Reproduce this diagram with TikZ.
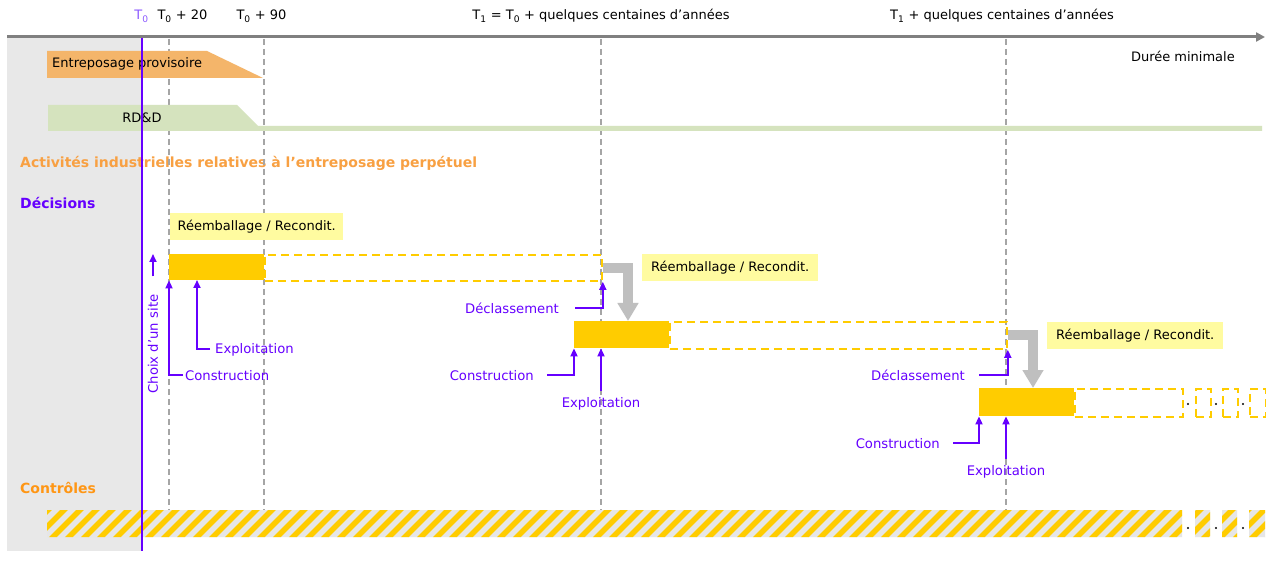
\documentclass[tikz,border=0pt]{standalone}
\usepackage{fontspec}
\setmainfont{DejaVu Sans}
\usetikzlibrary{arrows.meta}

\definecolor{panelgray}{RGB}{232,232,232}
\definecolor{axisgray}{RGB}{128,128,128}
\definecolor{guidegray}{RGB}{165,165,165}
\definecolor{storeorange}{RGB}{244,181,106}
\definecolor{rdgreen}{RGB}{213,227,190}
\definecolor{headorange}{RGB}{248,160,66}
\definecolor{ctrlorange}{RGB}{255,150,20}
\definecolor{decpurple}{RGB}{102,0,255}
\definecolor{tpurple}{RGB}{140,90,255}
\definecolor{baryellow}{RGB}{255,204,0}
\definecolor{notepale}{RGB}{255,251,160}
\definecolor{hatchgray}{RGB}{230,230,230}
\definecolor{pushgray}{RGB}{191,191,191}

\begin{document}
\begin{tikzpicture}[x=1pt,y=-1pt,
  lbl/.style={font=\fontsize{13}{15}\selectfont, inner sep=0pt},
  plbl/.style={font=\fontsize{13.2}{15}\selectfont, text=decpurple, inner sep=0pt},
  head/.style={font=\fontsize{14}{16}\selectfont\bfseries, inner sep=0pt, anchor=base west},
  guide/.style={guidegray, line width=1.2pt, dash pattern=on 6pt off 4pt},
  solidbar/.style={fill=baryellow, inner sep=0pt, anchor=north west},
  futurebar/.style={draw=baryellow, line width=1.8pt, dash pattern=on 8pt off 5pt,
                    inner sep=0pt, anchor=north west},
  note/.style={lbl, fill=notepale, minimum height=27pt, anchor=north west,
               text height=9.5pt, text depth=2.5pt},
  ptr/.style={decpurple, line width=1.8pt, -{Triangle[length=8pt,width=7pt]}},
  push/.style={pushgray, line width=10pt, line join=miter,
               -{Triangle[length=18pt,width=20pt]}},
]
\useasboundingbox (0,0) rectangle (1266,561);
\fill[white] (0,0) rectangle (1266,561);

% left-hand panel
\fill[panelgray] (7,37) rectangle (142,551);

% time axis and its marks
\draw[axisgray, line width=3pt, -{Triangle[length=9pt,width=9pt]}] (7,37) -- (1265,37);
\node[lbl, anchor=base, text=tpurple] (t0) at (141.5,20) {T\textsubscript{0}};
\node[lbl, anchor=base] (t20) at (182.5,20) {T\textsubscript{0} + 20};
\node[lbl, anchor=base] (t90) at (261.5,20) {T\textsubscript{0} + 90};
\node[lbl, anchor=base] (t1) at (601,20) {T\textsubscript{1} = T\textsubscript{0} + quelques centaines d’années};
\node[lbl, anchor=base] (t1p) at (1002,20) {T\textsubscript{1} + quelques centaines d’années};
\node[lbl, anchor=base east] (dmin) at (1235,62) {Durée minimale};

% section headings
\node[head, text=headorange] (act) at (20,168) {Activités industrielles relatives à l’entreposage perpétuel};
\node[head, text=decpurple] (dec) at (20,209) {Décisions};
\node[head, text=ctrlorange] (ctl) at (20,493) {Contrôles};

% time guides
\foreach \gx in {169,264,601,1006} \draw[guide] (\gx,39) -- (\gx,510);

% interim storage and RD&D
\fill[storeorange] (47,51) -- (207,51) -- (263,78) -- (47,78) -- cycle;
\node[lbl, anchor=base west] (entr) at (52,68) {Entreposage provisoire};
\fill[rdgreen] (48,105) -- (237,105) -- (258,126) -- (1262,126) -- (1262,131) -- (48,131) -- cycle;
\node[lbl, anchor=base] (rdd) at (142,123) {RD\&D};

% first facility
\node[futurebar, minimum width=337pt, minimum height=26pt] (fut1) at (264,254) {};
\node[solidbar, minimum width=95pt, minimum height=26pt] (bar1) at (169,254) {};
\node[note, minimum width=173pt] (re1) at (170,213) {Réemballage / Recondit.};

% second facility
\node[futurebar, minimum width=337pt, minimum height=27pt] (fut2) at (669,321) {};
\node[solidbar, minimum width=95pt, minimum height=27pt] (bar2) at (574,321) {};
\node[note, minimum width=176pt] (re2) at (642,254) {Réemballage / Recondit.};

% third facility and the ones after it
\node[futurebar, minimum width=108pt, minimum height=28pt] (fut3) at (1074,388) {};
\node[solidbar, minimum width=95pt, minimum height=28pt] (bar3) at (979,388) {};
\node[note, minimum width=176pt] (re3) at (1047,322) {Réemballage / Recondit.};
\node[futurebar, minimum width=15pt, minimum height=28pt] (fut4) at (1195,388) {};
\node[futurebar, minimum width=15pt, minimum height=28pt] (fut5) at (1222,388) {};
\node[futurebar, minimum width=16pt, minimum height=28pt] (fut6) at (1249,388) {};
\foreach \dx in {1188,1216,1243} \fill (\dx,404) circle (1.1pt);

% transfer to the next facility
\draw[push] (fut1.east) -| (628,321);
\draw[push] (fut2.east) -| (1033,388);

% decisions: first facility
\node[plbl, rotate=90] (site) at (153,344) {Choix d’un site};
\draw[ptr] ([yshift=18pt]site.east) -- (site.east |- bar1.north);
\node[plbl, anchor=base west] (con1) at (185,380) {Construction};
\draw[ptr] ([xshift=-2pt]con1.west) -| (bar1.south west);
\node[plbl, anchor=base west] (exp1) at (215,353) {Exploitation};
\coordinate (exp1in) at (197,280);
\draw[ptr] ([xshift=-5pt]exp1.west) -| (exp1in);

% decisions: second facility
\node[plbl, anchor=base east] (dcl2) at (559,313) {Déclassement};
\draw[ptr] ([xshift=16pt]dcl2.east) -| (fut1.south east);
\node[plbl, anchor=base east] (con2) at (534,380) {Construction};
\draw[ptr] ([xshift=13pt]con2.east) -| (bar2.south west);
\node[plbl, anchor=base] (exp2) at (601,407) {Exploitation};
\draw[ptr] ([yshift=6pt]exp2.north) -- (exp2.north |- bar2.south);

% decisions: third facility
\node[plbl, anchor=base east] (dcl3) at (965,380) {Déclassement};
\draw[ptr] ([xshift=14pt]dcl3.east) -| (fut2.south east);
\node[plbl, anchor=base east] (con3) at (940,448) {Construction};
\draw[ptr] ([xshift=13pt]con3.east) -| (bar3.south west);
\node[plbl, anchor=base] (exp3) at (1006,475) {Exploitation};
\draw[ptr] ([yshift=6pt]exp3.north) -- (exp3.north |- bar3.south);

% continuous controls
\begin{scope}
  \clip (47,510) rectangle (1182,537) (1195,510) rectangle (1210,537)
        (1222,510) rectangle (1237,537) (1249,510) rectangle (1265,537);
  \fill[hatchgray] (0,500) rectangle (1266,550);
  \foreach \k in {0,...,80} \draw[baryellow, line width=5.5pt] ({17+16*\k},541) -- ++(35,-35);
\end{scope}
\foreach \dx in {1188,1216,1243} \fill (\dx,528) circle (1.1pt);

% origin line
\draw[decpurple, line width=2.5pt] (142,38) -- (142,551);
\end{tikzpicture}
\end{document}
